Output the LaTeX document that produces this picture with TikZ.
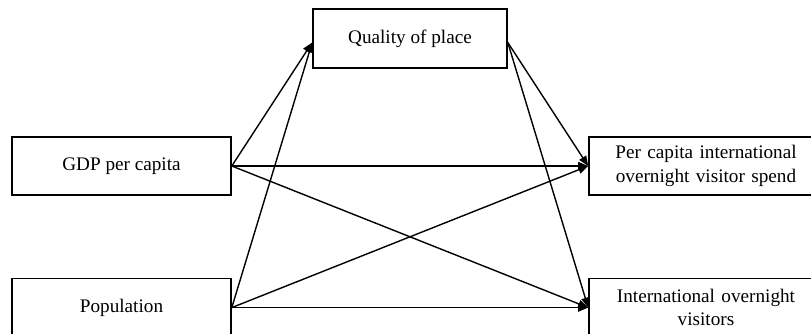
\documentclass[tikz,border=0pt]{standalone}
\usepackage{fontspec}
\setmainfont{Liberation Serif}
\usetikzlibrary{arrows.meta,positioning}

\begin{document}
\begin{tikzpicture}[
    x=0.5pt, y=-0.5pt,
    node distance=41pt,
    >={Triangle[length=5pt,width=4pt]},
    box/.style={
        rectangle, draw, line width=0.8pt,
        minimum height=29pt, inner sep=0pt,
        text centered, font=\fontsize{9.6}{11.7}\selectfont
    },
    srcbox/.style={box, minimum width=109.5pt},
    tgtbox/.style={box, text width=110pt, minimum width=117pt},
    arr/.style={->, line width=0.7pt}
]
    \useasboundingbox (0,0) rectangle (811,333);
    \node[srcbox] (gdp) at (121.5,166) {GDP per capita};
    \node[srcbox, below=of gdp] (pop) {Population};
    \node[box, minimum width=97pt, minimum height=29.5pt] (quality) at (410,38.5) {Quality of place};
    \node[tgtbox] (spend) at (706,166) {Per capita international\\overnight visitor spend};
    \node[tgtbox, below=of spend] (visitors) {International overnight\\visitors};
    \draw[arr] (gdp.east) -- ([yshift=-2pt]quality.west);
    \draw[arr] (pop.east) -- ([yshift=-2pt]quality.west);
    \draw[arr] (gdp.east) -- (spend.west);
    \draw[arr] (gdp.east) -- (visitors.west);
    \draw[arr] (pop.east) -- (spend.west);
    \draw[arr] (pop.east) -- (visitors.west);
    \draw[arr] ([yshift=-2pt]quality.east) -- (spend.west);
    \draw[arr] ([yshift=-2pt]quality.east) -- (visitors.west);
\end{tikzpicture}
\end{document}
